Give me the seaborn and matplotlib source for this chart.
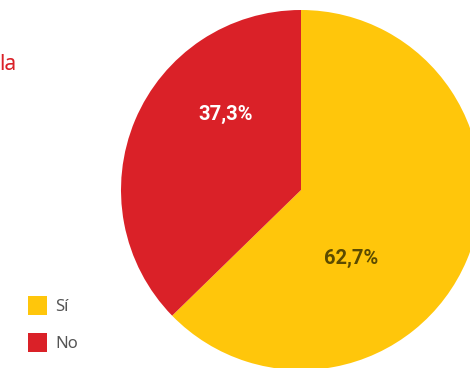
import matplotlib
matplotlib.use("Agg")
import matplotlib.pyplot as plt
import seaborn as sns
from matplotlib.patches import Patch

categories = ["Sí", "No"]
values = [62.7, 37.3]
pct_labels = ["62,7%", "37,3%"]
title_fragment = "la"

colors = ["#FFC60B", "#DA2128"]
label_colors = ["#5B4B00", "#FFFFFF"]

sns.set_theme(style="white")
plt.rcParams['font.family'] = ['Noto Sans', 'DejaVu Sans']

W, H = 470, 368
fig = plt.figure(figsize=(W / 100, H / 100), dpi=100)
cx, cy, r = 301, 190, 180
ax = fig.add_axes([(cx - r) / W, (H - cy - r) / H, 2 * r / W, 2 * r / H])
ax.axis("off")

wedges, texts, autotexts = ax.pie(
    values, colors=colors, startangle=90, counterclock=False, radius=1,
    autopct=lambda p: "", wedgeprops=dict(linewidth=0),
)
ax.set_xlim(-1, 1)
ax.set_ylim(-1, 1)
ax.set_aspect("equal")
# label positions (in radius units) tuned to the reference
label_pos = [(0.278, -0.378), (-0.42, 0.417)]
for t, lab, col, pos in zip(autotexts, pct_labels, label_colors, label_pos):
    t.set_text(lab)
    t.set_color(col)
    t.set_fontsize(14.5)
    t.set_fontweight("bold")
    t.set_family(["Roboto", "DejaVu Sans"])
    t.set_position(pos)
    t.set_ha("center")
    t.set_va("center")

fig.text(-0.002, (H - 65) / H, title_fragment, color="#DA2128", fontsize=15,
         ha="left", va="center")

handles = [Patch(facecolor=c, edgecolor="none") for c in colors]
leg = fig.legend(handles, categories, loc="upper left",
                 bbox_to_anchor=(28 / W, 1 - 296 / H), frameon=False,
                 borderpad=0, borderaxespad=0,
                 fontsize=12, handlelength=1.15, handleheight=1.4,
                 labelspacing=1.05, handletextpad=0.5, labelcolor="#555555")

fig.savefig("out.png", dpi=100)
